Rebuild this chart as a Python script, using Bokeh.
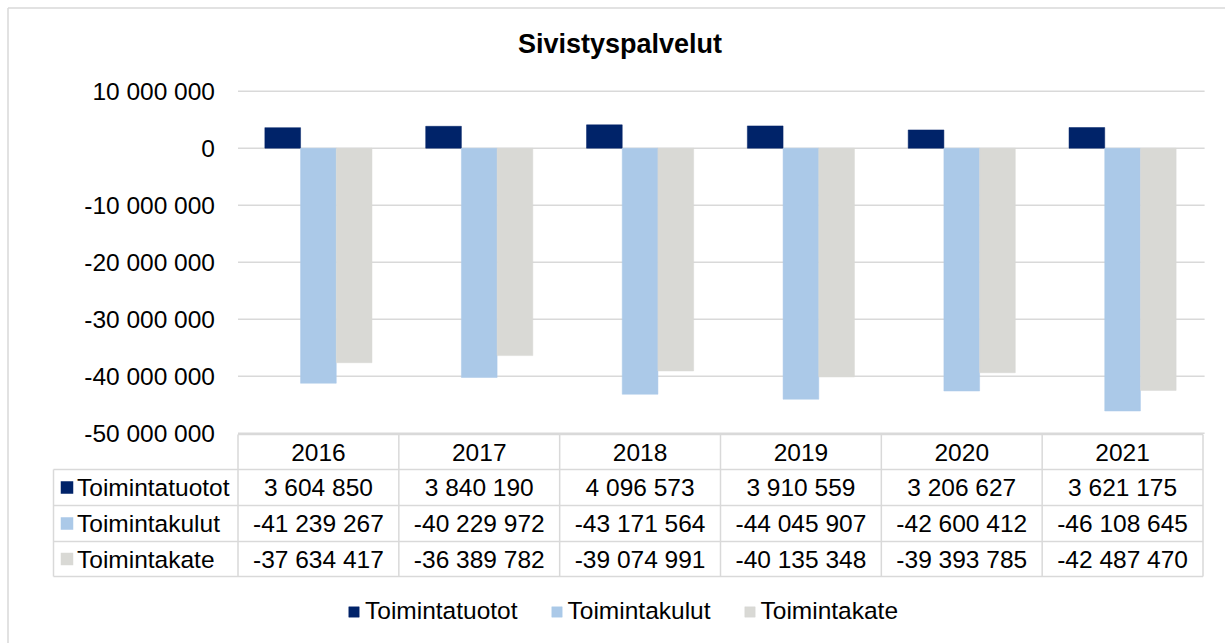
import numpy as np
from bokeh.plotting import figure
from bokeh.models import Range1d, FixedTicker, Legend, LegendItem
from bokeh.core.properties import value
from bokeh.embed import file_html
from bokeh.resources import INLINE

# ---------------- data ----------------
title_text = "Sivistyspalvelut"
years = ["2016", "2017", "2018", "2019", "2020", "2021"]
series_names = ["Toimintatuotot", "Toimintakulut", "Toimintakate"]
toimintatuotot = [3604850, 3840190, 4096573, 3910559, 3206627, 3621175]
toimintakulut = [-41239267, -40229972, -43171564, -44045907, -42600412, -46108645]
toimintakate = [-37634417, -36389782, -39074991, -40135348, -39393785, -42487470]
y_ticks = [10000000, 0, -10000000, -20000000, -30000000, -40000000, -50000000]

series_values = [toimintatuotot, toimintakulut, toimintakate]
colors = ["#002369", "#ABC9E8", "#D9D9D5"]

FONT = "Liberation Sans"
FS = "24.5px"
GRID = "#d9d9d9"


def fmt(v):
    return f"{int(v):,}".replace(",", " ")


# ---------------- layout (page pixel geometry) ----------------
W, H = 1225, 643
PAGE_L, PAGE_T = 0, 0
CL, CR = 237.5, 1202.5          # plot / table value columns
cw = (CR - CL) / len(years)
Y_TOP_PX, Y_BOT_PX = 90.7, 432.7  # pixel rows of 10M and -50M
px_per_unit = (Y_BOT_PX - Y_TOP_PX) / (y_ticks[0] - y_ticks[-1])
zero_px = Y_TOP_PX + y_ticks[0] * px_per_unit

x_start = -0.5 - (CL - PAGE_L) / cw
x_end = len(years) - 0.5 + (PAGE_L + W - CR) / cw
y_top = (zero_px - PAGE_T) / px_per_unit
y_bot = (zero_px - (PAGE_T + H)) / px_per_unit

p = figure(width=W, height=H, x_range=Range1d(x_start, x_end),
           y_range=Range1d(y_bot, y_top), min_border=0,
           toolbar_location=None, output_backend="svg",
           x_axis_type=None, y_axis_location="left")
p.extra_x_ranges = {"px": Range1d(PAGE_L, PAGE_L + W)}
p.extra_y_ranges = {"py": Range1d(PAGE_T + H, PAGE_T)}
p.outline_line_color = None
p.background_fill_color = "white"
p.border_fill_color = "white"
p.xgrid.visible = False
p.ygrid.visible = False

ax = p.yaxis[0]
ax.fixed_location = -0.5
ax.ticker = FixedTicker(ticks=y_ticks)
ax.major_label_overrides = {t: fmt(t) for t in y_ticks}
ax.axis_line_color = None
ax.major_tick_line_color = None
ax.minor_tick_line_color = None
ax.major_label_standoff = 17
ax.major_label_text_font = FONT
ax.major_label_text_font_size = FS
ax.major_label_text_color = "#000000"

# outer chart border (left / top)
BX, BY = 7.5, 7.5
p.segment(x0=[BX, BX], y0=[BY, BY], x1=[W, BX], y1=[BY, H],
          line_color=GRID, line_width=1.5, x_range_name="px", y_range_name="py")

# gridlines
n = len(years)
p.segment(x0=[-0.5] * len(y_ticks), x1=[n - 0.5 + 0.01] * len(y_ticks),
          y0=y_ticks, y1=y_ticks, line_color=GRID, line_width=1.5)

# bars
bw = 0.222
xs = np.arange(n)
renderers = []
for k, (vals, c) in enumerate(zip(series_values, colors)):
    r = p.vbar(x=xs + (k - 1) * bw, width=bw, top=vals, bottom=0,
               fill_color=c, line_color=c, line_width=0.5)
    renderers.append(r)

# title
p.text(x=[619.5], y=[43], text=[title_text], text_font=value(FONT),
       text_font_size="27px", text_font_style="bold", text_align="center",
       text_baseline="middle", text_color="#000000",
       x_range_name="px", y_range_name="py")

# ---------------- data table ----------------
TL = 53
rows_y = [434, 469, 505, 541, 576]
# horizontal lines
p.segment(x0=[CL] + [TL] * 4, x1=[CR] * 5, y0=rows_y, y1=rows_y,
          line_color=GRID, line_width=1.5, x_range_name="px", y_range_name="py")
# vertical lines
vx = [CL + cw * i for i in range(n + 1)]
p.segment(x0=vx, x1=vx, y0=[rows_y[0]] * len(vx), y1=[rows_y[-1]] * len(vx),
          line_color=GRID, line_width=1.5, x_range_name="px", y_range_name="py")
p.segment(x0=[TL], x1=[TL], y0=[rows_y[1]], y1=[rows_y[-1]],
          line_color=GRID, line_width=1.5, x_range_name="px", y_range_name="py")

centers_y = [(rows_y[i] + rows_y[i + 1]) / 2 for i in range(4)]
# header (years), placed on the bar axis columns
p.text(x=list(xs), y=[centers_y[0]] * n, text=years, text_font=value(FONT),
       text_font_size=FS, text_align="center", text_baseline="middle",
       text_color="#000000", y_range_name="py")
# values
for k, vals in enumerate(series_values):
    p.text(x=list(xs), y=[centers_y[k + 1]] * n, text=[fmt(v) for v in vals],
           text_font=value(FONT), text_font_size=FS, text_align="center",
           text_baseline="middle", text_color="#000000", y_range_name="py")
# row headers with keys
p.rect(x=[66.5] * 3, y=centers_y[1:], width=12.5, height=12.5,
       fill_color=colors, line_color=None, x_range_name="px", y_range_name="py")
p.text(x=[76.5] * 3, y=centers_y[1:], text=series_names, text_font=value(FONT),
       text_font_size=FS, text_align="left", text_baseline="middle",
       text_color="#000000", x_range_name="px", y_range_name="py")

# ---------------- legend ----------------
legend = Legend(items=[LegendItem(label=nm, renderers=[r])
                       for nm, r in zip(series_names, renderers)],
                orientation="horizontal", location=(347, 18),
                glyph_width=13, glyph_height=13, label_standoff=5, spacing=32,
                padding=0, margin=0, border_line_color=None,
                background_fill_alpha=0, label_text_font=FONT,
                label_text_font_size=FS, label_text_color="#000000")
p.add_layout(legend, "center")

open("out.html", "w").write(file_html(p, INLINE))
